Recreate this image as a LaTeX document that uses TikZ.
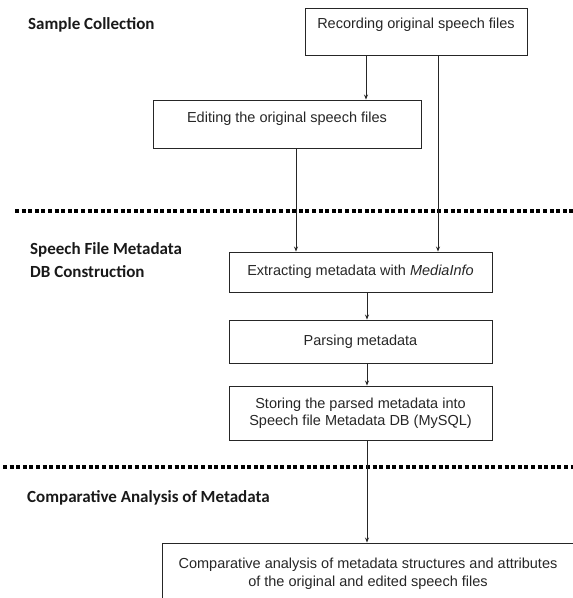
\documentclass[tikz,border=0pt]{standalone}
\usepackage{fontspec}
\setmainfont{Liberation Sans}
\newfontfamily\headfont{Carlito}
\usetikzlibrary{arrows.meta}
\begin{document}
\begin{tikzpicture}[x=1pt,y=-1pt,
  box/.style={draw=black!85, line width=0.9pt, font=\fontsize{14.5}{17.5}\selectfont, align=center, inner sep=0pt, text=black!85},
  head/.style={font=\headfont\bfseries\fontsize{17}{22.5}\selectfont, anchor=west, align=left, inner sep=0pt, text=black!90},
  arr/.style={draw=black!85, line width=0.8pt, -{Stealth[length=5pt,width=4pt]}},
  sepline/.style={line width=4pt, dash pattern=on 4pt off 2.6pt, black}]
\useasboundingbox (0,0) rectangle (573,598);
% section headings
\node[head] (h1) at (28,25) {Sample Collection};
\node[head] (h2) at (30,260) {Speech File Metadata\\DB Construction};
\node[head] (h3) at (27,498) {Comparative Analysis of Metadata};
% separators
\draw[sepline] (15,211) -- (573,211);
\draw[sepline] (3,467) -- (573,467);
% boxes
\node[box, minimum width=222pt, minimum height=47pt, text height=11pt, text depth=17pt] (rec) at (416,31.5) {Recording original speech files};
\node[box, minimum width=268pt, minimum height=48pt, text height=11pt, text depth=14pt] (edit) at (287,124) {Editing the original speech files};
\node[box, minimum width=263pt, minimum height=40pt] (extr) at (360.5,272) {Extracting metadata with \textit{MediaInfo}};
\node[box, minimum width=263pt, minimum height=43pt] (pars) at (360.5,341.5) {Parsing metadata};
\node[box, minimum width=263pt, minimum height=54pt] (stor) at (360.5,413) {Storing the parsed metadata into\\Speech file Metadata DB (MySQL)};
\node[box, minimum width=412pt, minimum height=61pt] (comp) at (368,573.5) {Comparative analysis of metadata structures and attributes\\of the original and edited speech files};
% connectors
\coordinate (c1) at (366,0);
\coordinate (c2) at (296,0);
\coordinate (c3) at (438,0);
\coordinate (c4) at (367,0);
\draw[arr] (rec.south -| c1) -- (edit.north -| c1);
\draw[arr] (edit.south -| c2) -- (extr.north -| c2);
\draw[arr] (rec.south -| c3) -- (extr.north -| c3);
\draw[arr] (extr.south -| c4) -- (pars.north -| c4);
\draw[arr] (pars.south -| c4) -- (stor.north -| c4);
\draw[arr] (stor.south -| c4) -- (comp.north -| c4);
\end{tikzpicture}
\end{document}
